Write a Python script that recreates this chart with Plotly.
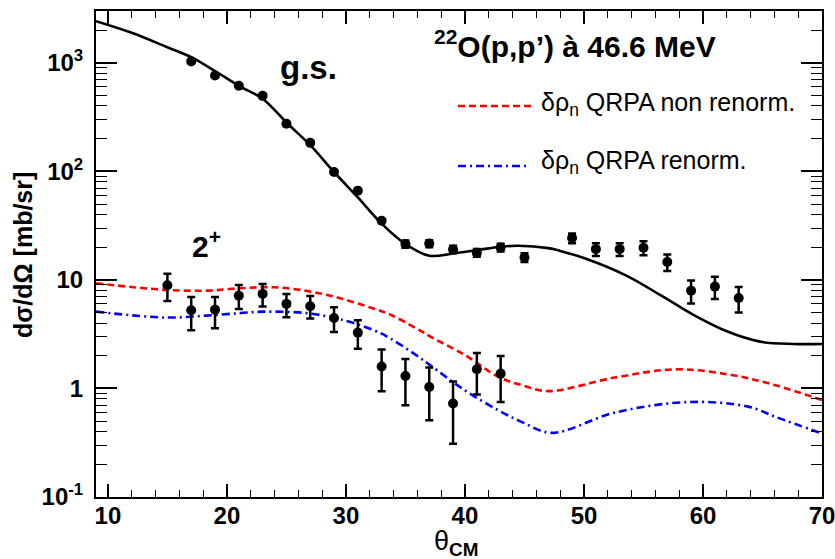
import plotly.graph_objects as go

# ---------------- data ----------------
# ground-state (g.s.) measured cross sections
gs_theta = [17, 19, 21, 23, 25, 27, 29, 31, 33, 35, 37, 39, 41, 43, 45, 49, 51, 53, 55, 57, 59, 61, 63]
gs_xs = [1030, 764, 614, 496, 274, 183, 98.7, 66.4, 35.1, 21.4, 21.6, 19.1, 17.8, 19.9, 16.1,
         24.3, 19.2, 19.2, 19.8, 14.6, 7.96, 8.67, 6.82]
gs_err = [25, 20, 16, 13, 7, 5, 2.5, 1.7, 1.0, 1.6, 1.6, 1.5, 1.5, 1.6, 1.5,
          2.5, 2.6, 2.6, 2.9, 2.5, 1.9, 2.0, 1.8]

# 2+ state measured cross sections (with upper / lower error-bar ends)
ex_theta = [15, 17, 19, 21, 23, 25, 27, 29, 31, 33, 35, 37, 39, 41, 43]
ex_xs = [8.93, 5.25, 5.32, 7.16, 7.43, 6.01, 5.72, 4.46, 3.27, 1.59, 1.30, 1.03, 0.727, 1.50, 1.37]
ex_hi = [11.4, 6.97, 6.97, 8.99, 9.18, 7.43, 7.12, 5.60, 4.25, 2.28, 1.87, 1.56, 1.16, 2.12, 1.99]
ex_lo = [6.4, 3.43, 3.58, 5.40, 5.68, 4.53, 4.40, 3.31, 2.32, 0.94, 0.70, 0.51, 0.31, 0.88, 0.75]

# g.s. calculation (solid black)
gs_calc_theta = [9, 12, 15, 17, 19, 21, 23, 25, 27, 29, 31, 33, 35, 37, 39, 41, 43, 44.5, 47, 48,
                 50, 53.6, 56.4, 59.2, 62, 64.8, 67.6, 70]
gs_calc = [2420, 1890, 1390, 1127, 840, 614, 466, 282, 174, 98.6, 57.5, 33, 21.4, 16.7, 17.5, 18.8,
           20.2, 20.6, 19.6, 18.5, 15.9, 10.9, 7.27, 4.76, 3.36, 2.70, 2.57, 2.57]

# 2+ QRPA non renorm. (red dashed)
red_theta = [9, 14.9, 18.3, 21.1, 23.9, 26.7, 29.5, 32.3, 33.7, 35.9, 37.2, 40, 42.8, 44.8, 47,
             52.6, 57.7, 62.4, 66.1, 70]
red_xs = [9.3, 8.09, 7.96, 8.37, 8.56, 7.92, 6.78, 5.45, 4.8, 3.58, 2.96, 2.03, 1.28, 1.07, 0.945,
          1.26, 1.50, 1.33, 1.07, 0.78]

# 2+ QRPA renorm. (blue dash-dot)
blue_theta = [9, 14.9, 18.3, 21.1, 23.1, 26.7, 29.5, 32.3, 33.7, 35.9, 37.2, 40, 42.8, 44.8, 47.3,
              52.6, 58.8, 63.8, 66.1, 70]
blue_xs = [5.1, 4.5, 4.69, 4.94, 5.1, 4.94, 4.34, 3.46, 2.90, 2.03, 1.60, 0.96, 0.63, 0.49, 0.39,
           0.60, 0.75, 0.68, 0.547, 0.385]

x_ticks = [10, 20, 30, 40, 50, 60, 70]
y_ticks = [0.1, 1, 10, 100, 1000]
y_ticktext = ["10<sup>-1</sup>", "1", "10", "10<sup>2</sup>", "10<sup>3</sup>"]

legend_labels = ["δρ<sub>n</sub> QRPA non renorm.", "δρ<sub>n</sub> QRPA renorm."]
title_text = "<b><sup>22</sup>O(p,p’) à 46.6 MeV</b>"

# ---------------- figure ----------------
FONT = "Liberation Sans, Arial, Helvetica, sans-serif"
W, H = 835, 559
L, R, T, B = 96, 13, 11, 62
PW, PH = W - L - R, H - T - B


def px(x):
    return (x - L) / PW


def py(y):
    return (H - B - y) / PH


fig = go.Figure()

fig.add_trace(go.Scatter(x=gs_calc_theta, y=gs_calc, mode="lines",
                         line=dict(color="black", width=2.6, shape="spline", smoothing=1.0),
                         showlegend=False, hoverinfo="skip"))
fig.add_trace(go.Scatter(x=red_theta, y=red_xs, mode="lines",
                         line=dict(color="#ff0000", width=2.6, dash="7px,4px", shape="spline", smoothing=1.0),
                         showlegend=False))
fig.add_trace(go.Scatter(x=blue_theta, y=blue_xs, mode="lines",
                         line=dict(color="#0000ff", width=2.6, dash="8px,4px,2px,4px", shape="spline", smoothing=1.0),
                         showlegend=False))

fig.add_trace(go.Scatter(x=gs_theta, y=gs_xs, mode="markers",
                         marker=dict(color="black", size=10, symbol="circle"),
                         error_y=dict(type="data", array=gs_err, color="black", thickness=2.5, width=4),
                         showlegend=False))
fig.add_trace(go.Scatter(x=ex_theta, y=ex_xs, mode="markers",
                         marker=dict(color="black", size=10, symbol="circle"),
                         error_y=dict(type="data", symmetric=False,
                                      array=[h - v for h, v in zip(ex_hi, ex_xs)],
                                      arrayminus=[v - l for v, l in zip(ex_xs, ex_lo)],
                                      color="black", thickness=2.5, width=4),
                         showlegend=False))

minor_y = [m * 10 ** e for e in range(-1, 4) for m in range(2, 10)]

fig.update_layout(
    width=W, height=H,
    margin=dict(l=L, r=R, t=T, b=B, autoexpand=False),
    paper_bgcolor="white", plot_bgcolor="white",
    font=dict(family=FONT, color="black"),
    showlegend=False,
    xaxis=dict(range=[9, 70], tickvals=x_ticks, ticks="inside", ticklen=13, tickwidth=1.5,
               tickcolor="black", showline=True, linecolor="black", linewidth=2, mirror="ticks",
               showgrid=False, zeroline=False, ticklabeloverflow="allow", automargin=False,
               ticklabelstandoff=-4,
               tickfont=dict(family=FONT, size=24, weight="bold", color="black"),
               minor=dict(dtick=2, tick0=0, ticks="inside", ticklen=7, tickwidth=1.2,
                          tickcolor="black", showgrid=False)),
    yaxis=dict(type="log", range=[-1, 3.477], tickvals=y_ticks, ticktext=y_ticktext,
               ticks="inside", ticklen=21, tickwidth=1.5, tickcolor="black",
               showline=True, linecolor="black", linewidth=2, mirror="ticks",
               showgrid=False, zeroline=False, ticklabelstandoff=6, ticklabeloverflow="allow",
               automargin=False,
               tickfont=dict(family=FONT, size=24, weight="bold", color="black"),
               minor=dict(tickvals=minor_y, ticks="inside", ticklen=11, tickwidth=1.2,
                          tickcolor="black", showgrid=False)),
)

ann = []
# axis titles
ann.append(dict(text="<b>dσ/dΩ [mb/sr]</b>", x=px(23), y=py(255), xref="paper", yref="paper",
                textangle=-90, showarrow=False, xanchor="center", yanchor="middle",
                font=dict(family=FONT, size=25, color="black")))
ann.append(dict(text="θ<sub><b>CM</b></sub>", x=px(456), y=py(543), xref="paper", yref="paper",
                showarrow=False, xanchor="center", yanchor="middle",
                font=dict(family=FONT, size=27, color="black")))
# labels
ann.append(dict(text=title_text, x=px(432), y=py(44), xref="paper", yref="paper",
                showarrow=False, xanchor="left", yanchor="middle",
                font=dict(family=FONT, size=30, color="black")))
ann.append(dict(text="<b>g.s.</b>", x=px(278), y=py(67), xref="paper", yref="paper",
                showarrow=False, xanchor="left", yanchor="middle",
                font=dict(family=FONT, size=33, color="black")))
ann.append(dict(text="<b>2<sup>+</sup></b>", x=px(190), y=py(244), xref="paper", yref="paper",
                showarrow=False, xanchor="left", yanchor="middle",
                font=dict(family=FONT, size=30, color="black")))
# legend texts
ann.append(dict(text=legend_labels[0], x=px(539), y=py(104), xref="paper", yref="paper",
                showarrow=False, xanchor="left", yanchor="middle",
                font=dict(family=FONT, size=25, color="black")))
ann.append(dict(text=legend_labels[1], x=px(539), y=py(162), xref="paper", yref="paper",
                showarrow=False, xanchor="left", yanchor="middle",
                font=dict(family=FONT, size=25, color="black")))
fig.update_layout(annotations=ann)

# legend line samples
fig.add_shape(type="line", xref="paper", yref="paper", x0=px(458), x1=px(532), y0=py(106), y1=py(106),
              line=dict(color="#ff0000", width=2.6, dash="7px,4px"))
fig.add_shape(type="line", xref="paper", yref="paper", x0=px(458), x1=px(527), y0=py(166), y1=py(166),
              line=dict(color="#0000ff", width=2.6, dash="8px,4px,2px,4px"))

fig.write_html("out.html", config={"displayModeBar": False},
               post_script="document.body.style.margin='0';document.body.style.overflow='hidden';")
